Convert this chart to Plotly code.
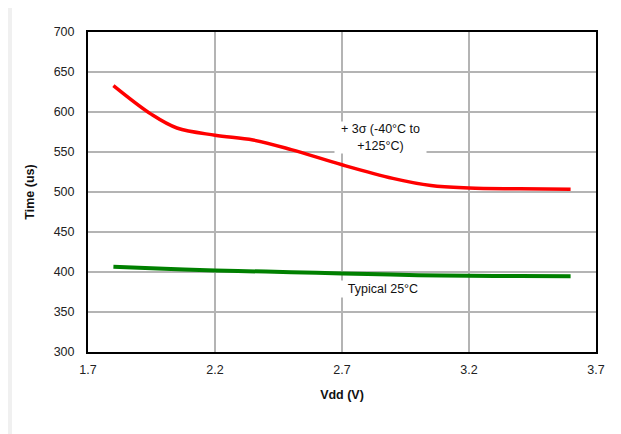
import plotly.graph_objects as go

vdd_red = [1.8, 1.95, 2.05, 2.2, 2.35, 2.5, 2.7, 2.9, 3.05, 3.2, 3.4, 3.6]
time_red = [633, 597, 580, 571, 565, 553, 534, 517, 508, 505, 504, 503.3]

vdd_green = [1.8, 2.0, 2.2, 2.4, 2.6, 2.8, 3.0, 3.2, 3.4, 3.6]
time_green = [406.5, 404, 402, 400.5, 399, 397.5, 396, 395.3, 395, 394.7]

x_ticks = [1.7, 2.2, 2.7, 3.2, 3.7]
y_ticks = [300, 350, 400, 450, 500, 550, 600, 650, 700]

FONT = "Liberation Sans, Arial, sans-serif"

fig = go.Figure()
fig.add_trace(go.Scatter(x=vdd_red, y=time_red, mode="lines",
                         line=dict(color="#ff0000", width=3.5, shape="spline", smoothing=1.0),
                         showlegend=False, hoverinfo="skip"))
fig.add_trace(go.Scatter(x=vdd_green, y=time_green, mode="lines",
                         line=dict(color="#008000", width=4, shape="spline", smoothing=1.0),
                         showlegend=False, hoverinfo="skip"))

fig.add_annotation(x=2.852, y=568, xref="x", yref="y", text="+ 3σ (-40°C to<br>+125°C)",
                   showarrow=False, bgcolor="white", borderpad=0, width=91, height=31,
                   font=dict(family=FONT, size=12.5, color="#111"))
fig.add_annotation(x=2.861, y=378.5, xref="x", yref="y", text="Typical 25°C",
                   showarrow=False, bgcolor="white", borderpad=0, width=90, height=16,
                   font=dict(family=FONT, size=12.5, color="#111"))

# figure is placed 8px from the page's top-left corner
fig.update_layout(
    width=613, height=426,
    margin=dict(l=80, r=25, t=24, b=82),
    paper_bgcolor="#f0f0f0",
    plot_bgcolor="white",
    font=dict(family=FONT, size=12.5, color="#111"),
    shapes=[
        dict(type="rect", xref="paper", yref="paper", x0=-0.1496, x1=1.0433, y0=-0.3, y1=1.0875,
             fillcolor="white", line=dict(width=0), layer="below"),
    ],
    xaxis=dict(range=[1.7, 3.7], tickvals=x_ticks, ticktext=[f"{v:.1f}" for v in x_ticks],
               showgrid=True, gridcolor="#b4b4b4", gridwidth=1.5,
               showline=True, linecolor="black", linewidth=2, mirror=True,
               ticks="", ticklabelstandoff=5, zeroline=False,
               tickfont=dict(size=12.5, color="#222"),
               title=dict(text="<b>Vdd (V)</b>", font=dict(size=12.5, color="#111"), standoff=14)),
    yaxis=dict(range=[300, 700], tickvals=y_ticks,
               showgrid=True, gridcolor="#b4b4b4", gridwidth=1.5,
               showline=True, linecolor="black", linewidth=2, mirror=True,
               ticks="", ticklabelstandoff=9, zeroline=False,
               tickfont=dict(size=12.5, color="#222"),
               title=dict(text="<b>Time (us)</b>", font=dict(size=12.5, color="#111"), standoff=16)),
)

fig.write_html("out.html")
